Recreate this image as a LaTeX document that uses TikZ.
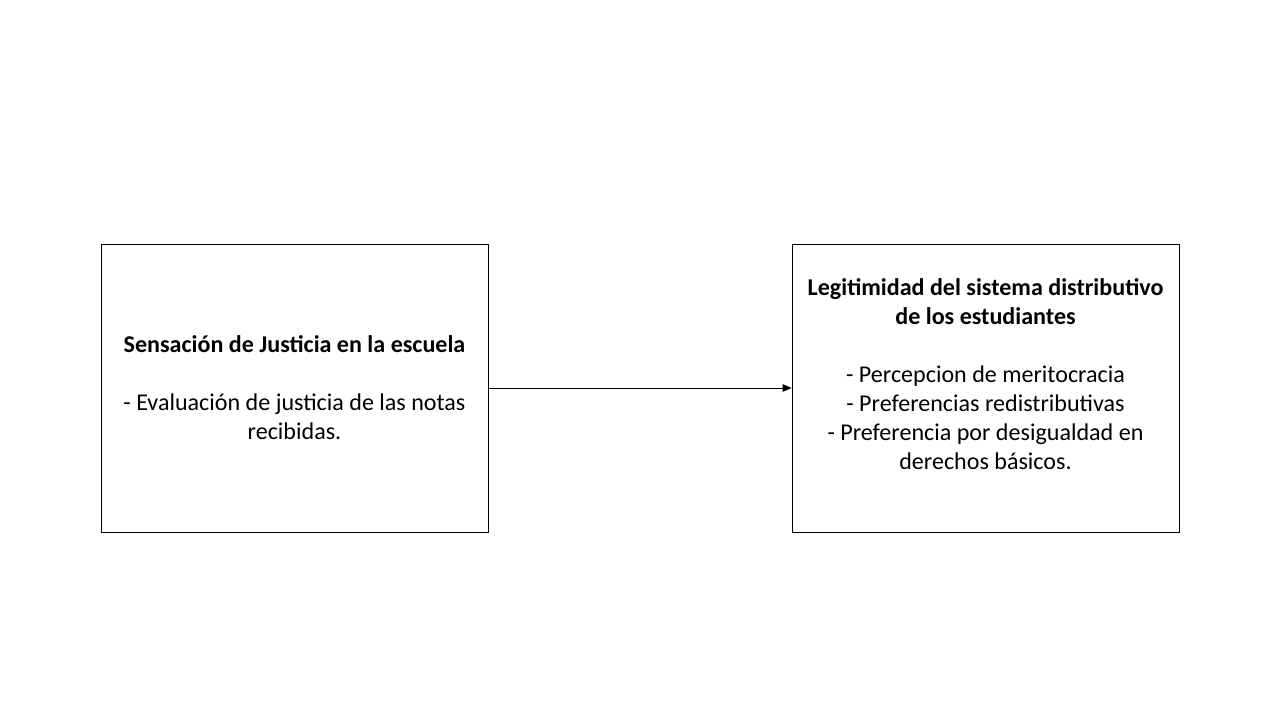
\documentclass[tikz,border=0pt]{standalone}
\usepackage{fontspec}
\setmainfont{Carlito}
\usetikzlibrary{arrows.meta, positioning}

\begin{document}
\begin{tikzpicture}[
        caja/.style={draw, line width=0.45pt, minimum width=7.74cm, minimum height=5.76cm, inner sep=0pt},
        texto/.style={align=center, font=\fontsize{13.7}{16.5}\selectfont, inner sep=0pt},
        flecha/.style={-{Triangle[length=0.18cm, width=0.15cm]}, line width=0.45pt}
    ]
        \useasboundingbox (0,0) rectangle (25.6,14.4);

        % Cajas
        \node [caja] (justicia) at (5.89,6.64) {};
        \node [caja] (legitimidad) at (19.71,6.64) {};

        % Textos
        \node [texto] (tjusticia) at (justicia.center)
            {\textbf{Sensación de Justicia en la escuela}\\[16.5pt]
             - Evaluación de justicia de las notas\\ recibidas.};
        \node [texto, yshift=0.28cm] (tlegitimidad) at (legitimidad.center)
            {\textbf{Legitimidad del sistema distributivo}\\ \textbf{de los estudiantes}\\[16.5pt]
             - Percepcion de meritocracia\\
             - Preferencias redistributivas\\
             - Preferencia por desigualdad en\\ derechos básicos.};

        % Relación
        \draw [flecha] (justicia) -- (legitimidad);
    \end{tikzpicture}
\end{document}
